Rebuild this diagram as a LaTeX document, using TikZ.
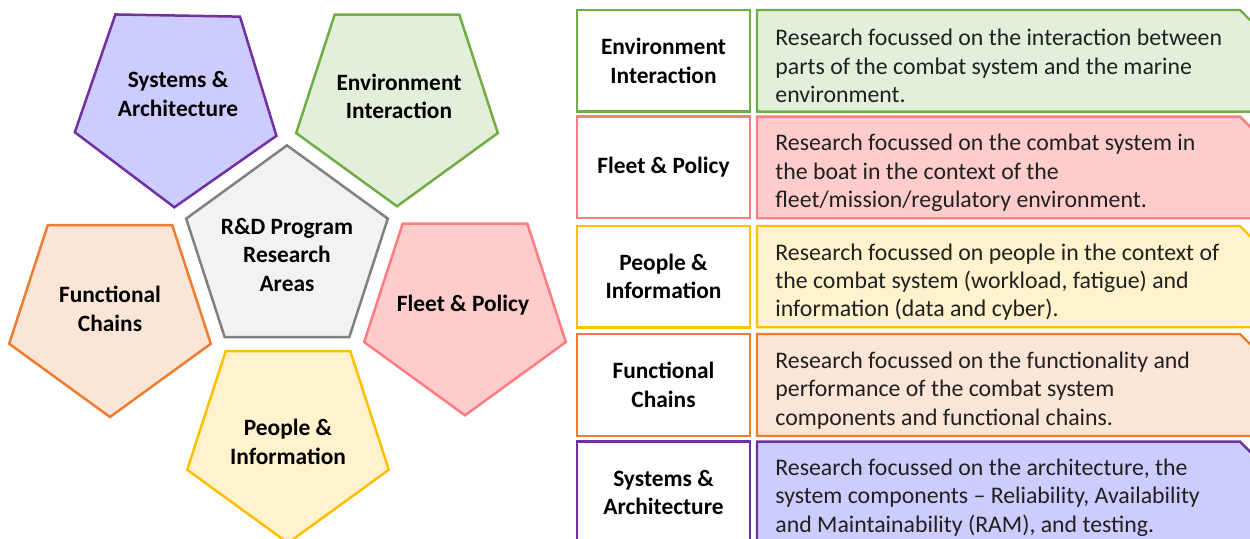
\documentclass[tikz,border=0pt]{standalone}
\usepackage{fontspec}
\setmainfont{Carlito}
\usetikzlibrary{calc}
\definecolor{sysfill}{RGB}{204,204,255}
\definecolor{sysdraw}{RGB}{112,48,160}
\definecolor{envfill}{RGB}{226,239,218}
\definecolor{envdraw}{RGB}{112,173,71}
\definecolor{cenfill}{RGB}{242,242,242}
\definecolor{cendraw}{RGB}{128,128,128}
\definecolor{funfill}{RGB}{251,229,214}
\definecolor{fundraw}{RGB}{237,125,49}
\definecolor{flefill}{RGB}{255,204,204}
\definecolor{fledraw}{RGB}{255,124,128}
\definecolor{peofill}{RGB}{255,242,204}
\definecolor{peodraw}{RGB}{255,192,0}
\definecolor{bodytext}{RGB}{32,32,32}
\newcommand\pentdown[4]{\draw[pent,#2,shift={(#1)},rotate=#3] (90:#4) -- (162:#4) -- (234:#4) -- (306:#4) -- (18:#4) -- cycle;}
\newcommand\pentup[3]{\draw[pent,#2,shift={(#1)}] (270:#3) -- (342:#3) -- (54:#3) -- (126:#3) -- (198:#3) -- cycle;}
\tikzset{
  pent/.style={line width=1.25pt, line join=miter},
  plabel/.style={font=\fontsize{11.7}{14.15}\selectfont\bfseries, align=center, text=black, inner sep=0pt},
  lbox/.style={draw, fill=white, line width=1.2pt, minimum width=86.5pt, minimum height=50.8pt, inner sep=0pt, font=\fontsize{11.7}{14.15}\selectfont\bfseries, align=center, text=black},
  rboxstyle/.style={line width=1.2pt, line join=miter},
  body/.style={font=\fontsize{11.9}{14.15}\selectfont, align=left, anchor=west, inner sep=0pt, text=bodytext}
}
\begin{document}
\begin{tikzpicture}[x=0.5pt,y=-0.5pt]
\useasboundingbox (0,0) rectangle (1250,539);
\clip (0,0) rectangle (1250,539);
% pentagons
\pentdown{176.2,101.3}{draw=sysdraw,fill=sysfill}{-1}{106}
\pentdown{397,100.3}{draw=envdraw,fill=envfill}{0}{106}
\pentup{287,251.4}{draw=cendraw,fill=cenfill}{106}
\pentdown{110,311}{draw=fundraw,fill=funfill}{0}{106}
\pentdown{465,309.3}{draw=fledraw,fill=flefill}{0}{106}
\pentdown{288,437}{draw=peodraw,fill=peofill}{0}{106}
\node[plabel] (psys) at (178,94) {Systems \&\\Architecture};
\node[plabel] (penv) at (399,96.5) {Environment\\Interaction};
\node[plabel] (pcen) at (287,255) {R\&D Program\\Research\\Areas};
\node[plabel] (pfun) at (110,309) {Functional\\Chains};
\node[plabel] (pfle) at (463,305) {Fleet \& Policy};
\node[plabel] (ppeo) at (288,442) {People \&\\Information};
% table: right boxes
\draw[rboxstyle,draw=envdraw,fill=envfill] (757,10) -- (1240,10) -- (1262,32) -- (1262,111.7) -- (757,111.7) -- cycle;
\draw[rboxstyle,draw=fledraw,fill=flefill] (757,116.7) -- (1240,116.7) -- (1262,138.7) -- (1262,218.3) -- (757,218.3) -- cycle;
\draw[rboxstyle,draw=peodraw,fill=peofill] (757,226) -- (1240,226) -- (1262,248) -- (1262,327.3) -- (757,327.3) -- cycle;
\draw[rboxstyle,draw=fundraw,fill=funfill] (757,334) -- (1240,334) -- (1262,356) -- (1262,436) -- (757,436) -- cycle;
\draw[rboxstyle,draw=sysdraw,fill=sysfill] (757,441.7) -- (1240,441.7) -- (1262,463.7) -- (1262,543) -- (757,543) -- cycle;
% table: left boxes
\node[lbox,draw=envdraw] (lenv) at (663.5,60.85) {Environment\\Interaction};
\node[lbox,draw=fledraw] (lfle) at (663.5,167.5) {Fleet \& Policy};
\node[lbox,draw=peodraw] (lpeo) at (663.5,276.65) {People \&\\Information};
\node[lbox,draw=fundraw] (lfun) at (663.5,385) {Functional\\Chains};
\node[lbox,draw=sysdraw] (lsys) at (663.5,492.35) {Systems \&\\Architecture};
% table: descriptions
\node[body] (benv) at (775,66) {Research focussed on the interaction between\\parts of the combat system and the marine\\environment.};
\node[body] (bfle) at (775,173) {Research focussed on the combat system in\\the boat in the context of the\\fleet/mission/regulatory environment.};
\node[body] (bpeo) at (775,282) {Research focussed on people in the context of\\the combat system (workload, fatigue) and\\information (data and cyber).};
\node[body] (bfun) at (775,390.5) {Research focussed on the functionality and\\performance of the combat system\\components and functional chains.};
\node[body] (bsys) at (775,497.5) {Research focussed on the architecture, the\\system components -- Reliability, Availability\\and Maintainability (RAM), and testing.};
\end{tikzpicture}
\end{document}
